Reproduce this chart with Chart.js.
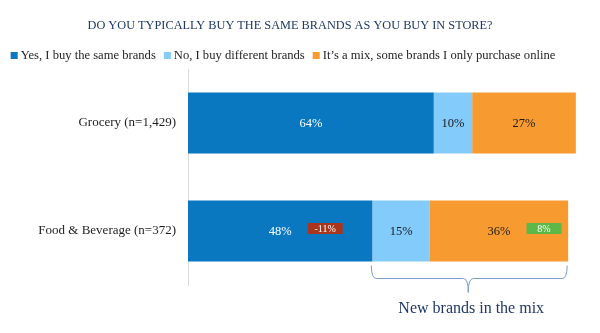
<!DOCTYPE html>
<html>
<head>
<meta charset="utf-8">
<script src="https://cdn.jsdelivr.net/npm/chart.js@4.4.1/dist/chart.umd.min.js"></script>
<style>
  html, body { margin: 0; padding: 0; background: #ffffff; }
  #wrap { width: 600px; height: 333px; position: relative; }
</style>
</head>
<body>
<div id="wrap"><canvas id="c" width="600" height="333"></canvas></div>
<script>
// Survey question and answer categories
const chartTitle = 'DO YOU TYPICALLY BUY THE SAME BRANDS AS YOU BUY IN STORE?';
const categories = ['Grocery (n=1,429)', 'Food & Beverage (n=372)'];
const seriesNames = [
  'Yes, I buy the same brands',
  'No, I buy different brands',
  'It\u2019s a mix, some brands I only purchase online'
];

// Share of respondents (%) per answer
const sameBrands = [64, 48];
const differentBrands = [10, 15];
const mixBrands = [27, 36];

// Change markers shown beside the Food & Beverage values (percentage points)
const sameBrandsDelta = [null, -11];
const mixBrandsDelta = [null, 8];

const braceLabel = 'New brands in the mix';

const colors = ['#0a77c1', '#82cbfb', '#f79a2f'];
const labelColors = ['#ffffff', '#1a1a1a', '#1a1a1a'];
const navy = '#1f3864';
const serif = '"Liberation Serif", "Times New Roman", serif';

// Title and legend drawn at the top of the canvas
const headerPlugin = {
  id: 'header',
  afterDraw(chart) {
    const ctx = chart.ctx;
    ctx.save();
    ctx.font = '13.5px ' + serif;
    ctx.fillStyle = navy;
    ctx.textAlign = 'center';
    ctx.textBaseline = 'middle';
    const tw = ctx.measureText(chartTitle).width;
    const sx = Math.min(1, 405 / tw);
    ctx.translate(290, 25);
    ctx.scale(sx, 1);
    ctx.fillText(chartTitle, 0, 0);
    ctx.restore();

    ctx.save();
    ctx.font = '12.6px ' + serif;
    ctx.textBaseline = 'middle';
    ctx.textAlign = 'left';
    const box = 7, gapText = 3, gapItem = 8;
    const items = chart.data.datasets.map(ds => ({
      text: ds.label, color: ds.backgroundColor,
      w: box + gapText + ctx.measureText(ds.label).width
    }));
    const total = items.reduce((s, it) => s + it.w, 0) + gapItem * (items.length - 1);
    let x = 283 - total / 2;
    const y = 55.5;
    items.forEach(it => {
      ctx.fillStyle = it.color;
      ctx.fillRect(x, y - box / 2, box, box);
      ctx.fillStyle = '#1e1e1e';
      ctx.fillText(it.text, x + box + gapText, y);
      x += it.w + gapItem;
    });
    ctx.restore();
  }
};

// Value labels, change markers and the bracket under the new-brand segments
const annotatePlugin = {
  id: 'annotate',
  afterDatasetsDraw(chart) {
    const ctx = chart.ctx;
    const deltas = [sameBrandsDelta, null, mixBrandsDelta];
    ctx.save();
    chart.data.datasets.forEach((ds, di) => {
      const meta = chart.getDatasetMeta(di);
      meta.data.forEach((bar, i) => {
        const cx = (bar.x + bar.base) / 2;
        ctx.font = '12.5px ' + serif;
        ctx.fillStyle = labelColors[di];
        ctx.textAlign = 'center';
        ctx.textBaseline = 'middle';
        ctx.fillText(ds.data[i] + '%', cx, bar.y + 1);
        const d = deltas[di] ? deltas[di][i] : null;
        if (d !== null && d !== undefined) {
          const bx = cx + 45, by = bar.y - 2.5;
          ctx.fillStyle = d < 0 ? '#a9361c' : '#5db847';
          ctx.fillRect(bx - 17.5, by - 5.5, 35, 11);
          ctx.fillStyle = '#ffffff';
          ctx.font = '10px ' + serif;
          ctx.fillText(d + '%', bx, by + 0.5);
        }
      });
    });

    // bracket spanning "different" + "mix" segments of the last category
    const last = categories.length - 1;
    const b1 = chart.getDatasetMeta(1).data[last];
    const b2 = chart.getDatasetMeta(2).data[last];
    const x0 = Math.min(b1.x, b1.base) - 1;
    const x1 = b2.x - 1;
    const bottom = b1.y + b1.height / 2;
    const top = bottom + 4, mid = bottom + 17, tip = bottom + 31;
    const xm = (x0 + x1) / 2 - 1;
    const r = 5;
    ctx.strokeStyle = '#7d9cc7';
    ctx.lineWidth = 1;
    ctx.beginPath();
    ctx.moveTo(x0, top);
    ctx.quadraticCurveTo(x0, mid, x0 + r, mid);
    ctx.lineTo(xm - r, mid);
    ctx.quadraticCurveTo(xm, mid, xm, tip);
    ctx.quadraticCurveTo(xm, mid, xm + r, mid);
    ctx.lineTo(x1 - r, mid);
    ctx.quadraticCurveTo(x1, mid, x1, top);
    ctx.stroke();

    ctx.font = '16px ' + serif;
    ctx.fillStyle = navy;
    ctx.textAlign = 'center';
    ctx.textBaseline = 'middle';
    ctx.fillText(braceLabel, xm + 3, bottom + 47);
    ctx.restore();
  }
};

const seriesData = [sameBrands, differentBrands, mixBrands];

new Chart(document.getElementById('c'), {
  type: 'bar',
  data: {
    labels: categories,
    datasets: seriesNames.map((name, i) => ({
      label: name,
      data: seriesData[i],
      backgroundColor: colors[i],
      borderWidth: 0,
      categoryPercentage: 1,
      barPercentage: 0.565,
      clip: false
    }))
  },
  options: {
    indexAxis: 'y',
    responsive: false,
    animation: false,
    layout: { padding: { top: 69, right: 28, bottom: 48, left: 0 } },
    scales: {
      x: { stacked: true, min: 0, max: 100, display: false },
      y: {
        stacked: true,
        grid: { display: false, drawTicks: false },
        border: { display: true, color: '#d9d9d9', width: 1 },
        ticks: {
          color: '#1e1e1e',
          font: { family: serif, size: 13 },
          padding: 12
        },
        afterFit(scale) { scale.width = 188; }
      }
    },
    plugins: {
      legend: { display: false },
      title: { display: false },
      tooltip: { enabled: false }
    }
  },
  plugins: [headerPlugin, annotatePlugin]
});
</script>
</body>
</html>
